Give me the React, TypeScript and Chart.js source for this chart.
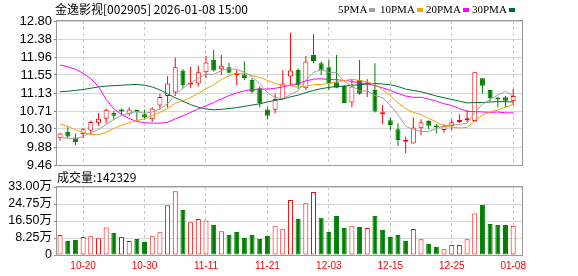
import React, { useEffect, useRef } from 'react';
import { Chart, registerables } from 'chart.js';

Chart.register(...registerables);

const TITLE = '金逸影视[002905] 2026-01-08 15:00';
const VOLUME_TITLE = '成交量';

const DATES = [
  '10-15','10-16','10-17','10-20','10-21','10-22','10-23','10-24','10-27','10-28',
  '10-29','10-30','10-31','11-03','11-04','11-05','11-06','11-07','11-10','11-11',
  '11-12','11-13','11-14','11-17','11-18','11-19','11-20','11-21','11-24','11-25',
  '11-26','11-27','11-28','12-01','12-02','12-03','12-04','12-05','12-08','12-09',
  '12-10','12-11','12-12','12-15','12-16','12-17','12-18','12-19','12-22','12-23',
  '12-24','12-25','12-26','12-29','12-30','12-31','01-05','01-06','01-07','01-08',
];
const DATE_TICKS = ['10-20','10-30','11-11','11-21','12-03','12-15','12-25','01-08'];

const OPEN = [
  10.08,10.23,10.10,10.18,10.26,10.44,10.53,10.67,10.71,10.64,
  10.71,10.64,10.52,10.84,11.06,11.14,11.65,11.33,11.35,11.61,
  11.90,11.68,11.73,11.55,11.56,11.43,11.24,10.75,10.74,10.99,
  11.51,11.67,11.24,12.01,11.82,11.73,11.38,11.29,10.91,11.43,
  11.33,11.20,10.64,10.50,10.29,10.00,9.96,10.31,10.48,10.35,
  10.27,10.36,10.46,10.50,10.48,11.47,11.20,11.00,11.03,10.95,
];
const HIGH = [
  10.20,10.35,10.19,10.31,10.49,10.66,10.77,10.71,10.77,10.80,
  10.73,10.74,10.80,11.11,11.52,11.95,11.68,11.74,11.76,11.99,
  12.13,12.01,11.83,11.66,11.86,11.47,11.28,10.80,11.12,11.66,
  12.53,11.70,11.99,12.50,11.86,11.90,12.01,11.31,11.45,11.90,
  11.45,11.82,10.85,10.57,10.43,10.12,10.56,10.52,10.50,10.41,
  10.41,10.52,10.64,10.74,11.61,11.47,11.20,11.03,11.06,11.22,
];
const LOW = [
  10.02,10.08,9.92,10.08,10.15,10.37,10.43,10.50,10.62,10.60,
  10.50,10.52,10.46,10.75,10.79,11.06,11.24,11.25,11.28,11.47,
  11.63,11.55,11.58,11.31,11.43,11.12,10.80,10.52,10.66,10.97,
  11.31,11.22,11.20,11.82,11.55,11.20,11.24,10.89,10.80,11.09,
  11.04,10.68,10.41,10.27,9.90,9.74,9.96,10.15,10.29,10.19,
  10.21,10.27,10.43,10.46,10.46,11.12,10.93,10.80,10.80,10.85,
];
const CLOSE = [
  10.19,10.12,9.99,10.29,10.46,10.53,10.74,10.60,10.70,10.75,
  10.69,10.56,10.77,11.04,11.35,11.73,11.31,11.37,11.61,11.84,
  11.65,11.76,11.60,11.56,11.48,11.16,10.89,10.60,10.99,11.35,
  11.65,11.31,11.86,11.87,11.65,11.35,11.25,10.90,11.28,11.11,
  11.35,10.70,10.65,10.39,10.04,10.01,10.33,10.45,10.37,10.33,
  10.36,10.45,10.48,10.52,11.61,11.30,11.01,10.98,10.95,11.06,
];
// 成交量，单位：万
const VOLUME = [
  9.7,6.8,7.3,8.7,9.1,8.1,13.4,10.7,8.7,6.8,
  7.8,6.3,9.1,11.0,24.1,30.9,21.8,15.9,17.5,16.8,
  14.6,11.5,9.7,11.2,8.3,9.7,7.8,9.2,13.9,12.5,
  26.7,17.5,25.1,30.6,18.1,11.2,18.9,13.1,13.9,13.6,
  13.1,18.9,12.1,8.7,9.7,6.8,12.6,7.6,5.3,3.9,
  2.8,4.9,4.9,7.6,20.2,24.3,15.0,14.6,14.6,14.2329,
];

const MA5 = [
  10.10,10.08,10.07,10.12,10.21,10.28,10.40,10.52,10.61,10.66,
  10.70,10.66,10.69,10.76,10.88,11.09,11.24,11.36,11.47,11.57,
  11.56,11.65,11.69,11.68,11.61,11.51,11.34,11.14,11.02,11.00,
  11.10,11.18,11.43,11.61,11.67,11.61,11.60,11.40,11.29,11.18,
  11.18,11.07,11.02,10.84,10.63,10.36,10.28,10.24,10.24,10.30,
  10.37,10.39,10.40,10.43,10.68,10.87,10.98,11.08,11.17,11.06,
];
const MA10 = [
  10.41,10.36,10.28,10.21,10.17,10.16,10.22,10.31,10.38,10.44,
  10.49,10.53,10.61,10.68,10.77,10.89,10.95,11.03,11.12,11.23,
  11.32,11.44,11.53,11.58,11.59,11.53,11.49,11.42,11.35,11.30,
  11.30,11.26,11.29,11.32,11.33,11.35,11.39,11.42,11.45,11.42,
  11.39,11.33,11.21,11.06,10.90,10.77,10.68,10.63,10.54,10.46,
  10.36,10.34,10.32,10.33,10.49,10.62,10.69,10.74,10.80,10.87,
];
const MA20 = [
  11.78,11.74,11.68,11.59,11.46,11.28,10.98,10.76,10.63,10.54,
  10.47,10.44,10.43,10.43,10.45,10.53,10.60,10.68,10.76,10.83,
  10.91,10.99,11.07,11.13,11.18,11.21,11.22,11.22,11.24,11.27,
  11.31,11.35,11.41,11.45,11.46,11.44,11.44,11.42,11.40,11.36,
  11.35,11.30,11.25,11.19,11.12,11.06,11.03,11.03,10.99,10.94,
  10.88,10.84,10.77,10.70,10.70,10.69,10.68,10.69,10.67,10.67,
];
const MA30 = [
  11.16,11.17,11.19,11.21,11.24,11.27,11.29,11.30,11.31,11.32,
  11.33,11.31,11.27,11.20,11.11,11.02,10.94,10.86,10.80,10.76,
  10.74,10.75,10.77,10.79,10.82,10.85,10.88,10.92,10.96,10.99,
  11.04,11.08,11.14,11.19,11.23,11.26,11.28,11.29,11.31,11.32,
  11.34,11.35,11.34,11.32,11.28,11.22,11.19,11.16,11.11,11.06,
  11.02,10.98,10.94,10.90,10.91,10.91,10.92,10.93,10.93,10.92,
];

const PRICE_TICKS = ['9.46','9.88','10.30','10.71','11.13','11.55','11.96','12.38','12.80'];
const VOLUME_TICKS = ['0','8.25万','16.50万','24.75万','33.00万'];

const MA_SERIES = [
  { label: '5PMA', data: MA5, color: '#a0a0a0' },
  { label: '10PMA', data: MA10, color: '#f5a200' },
  { label: '20PMA', data: MA20, color: '#ff00ff' },
  { label: '30PMA', data: MA30, color: '#00702e' },
];

const RED = '#ff0000';
const GREEN = '#008000';
const X_MIN = -0.4;
const X_MAX = 60.15;

const framePlugin = {
  id: 'frame',
  afterDatasetsDraw(chart: any) {
    const { ctx, chartArea } = chart;
    ctx.save();
    ctx.strokeStyle = '#9a9a9a';
    ctx.lineWidth = 1;
    ctx.strokeRect(
      Math.round(chartArea.left) - 0.5,
      Math.round(chartArea.top) - 0.5,
      Math.round(chartArea.right - chartArea.left) + 1,
      Math.round(chartArea.bottom - chartArea.top) + 1,
    );
    ctx.restore();
  },
};

const upCandle = (i: number) => CLOSE[i] >= OPEN[i];
const upVolume = (i: number) => (i === 0 ? CLOSE[0] >= OPEN[0] : CLOSE[i] >= CLOSE[i - 1]);

const dateTickValues = () => DATE_TICKS.map((d) => ({ value: DATES.indexOf(d) }));

function xScale(showLabels: boolean) {
  return {
    type: 'linear' as const,
    min: X_MIN,
    max: X_MAX,
    offset: false,
    afterBuildTicks: (ax: any) => {
      ax.ticks = dateTickValues();
    },
    ticks: {
      display: showLabels,
      autoSkip: false,
      maxRotation: 0,
      padding: 5,
      color: RED,
      font: { family: '"Liberation Sans", Arial, sans-serif', size: 10 },
      callback: (v: any) => DATES[Math.round(Number(v))],
    },
    grid: { color: '#c8c8c8', drawTicks: false, lineWidth: 1, offset: false },
    border: { display: false, dash: [3, 3] },
    afterFit: (ax: any) => {
      ax.height = showLabels ? 21 : 0;
    },
  };
}

function PriceChart() {
  const ref = useRef<HTMLCanvasElement>(null);
  useEffect(() => {
    if (!ref.current) return;
    const idx = DATES.map((_, i) => i);
    const pMin = parseFloat(PRICE_TICKS[0]);
    const pMax = parseFloat(PRICE_TICKS[PRICE_TICKS.length - 1]);
    const step = (pMax - pMin) / (PRICE_TICKS.length - 1);
    const chart = new Chart(ref.current, {
      type: 'bar',
      data: {
        datasets: [
          ...MA_SERIES.map((s) => ({
            type: 'line' as const,
            label: s.label,
            data: s.data.map((v, i) => ({ x: i, y: v })),
            borderColor: s.color,
            borderWidth: 1,
            pointRadius: 0,
            tension: 0,
            order: 0,
          })),
          {
            type: 'bar' as const,
            label: 'body',
            data: idx.map((i) => ({ x: i, y: [OPEN[i], CLOSE[i]] })) as any,
            backgroundColor: idx.map((i) => (upCandle(i) ? '#ffffff' : GREEN)),
            borderColor: idx.map((i) => (upCandle(i) ? RED : GREEN)),
            borderWidth: 1,
            borderSkipped: false,
            barThickness: 5,
            minBarLength: 2,
            grouped: false,
            inflateAmount: 0,
            order: 1,
          },
          {
            type: 'bar' as const,
            label: 'wick',
            data: idx.map((i) => ({ x: i, y: [LOW[i], HIGH[i]] })) as any,
            backgroundColor: idx.map((i) => (upCandle(i) ? RED : GREEN)),
            borderWidth: 0,
            barThickness: 1,
            grouped: false,
            inflateAmount: 0,
            order: 2,
          },
        ],
      },
      options: {
        animation: false,
        responsive: false,
        events: [],
        layout: { padding: { left: 0, right: 56, top: 21, bottom: 13 } },
        plugins: { legend: { display: false }, tooltip: { enabled: false } },
        scales: {
          x: xScale(false) as any,
          y: {
            type: 'linear',
            min: pMin,
            max: pMax,
            afterBuildTicks: (ax: any) => {
              ax.ticks = PRICE_TICKS.map((_, k) => ({ value: pMin + k * step }));
            },
            ticks: {
              autoSkip: false,
              padding: 2,
              color: '#000000',
              font: { family: '"Liberation Sans", Arial, sans-serif', size: 13 },
              callback: (_v: any, k: number) => PRICE_TICKS[k],
            },
            grid: { color: '#d6d6d6', tickLength: 3, tickColor: '#8a8a8a' },
            border: { display: false },
            afterFit: (ax: any) => {
              ax.width = 57;
            },
          },
        },
      },
      plugins: [framePlugin],
    });
    return () => chart.destroy();
  }, []);
  return (
    <canvas
      ref={ref}
      width={578}
      height={178}
      style={{ position: 'absolute', left: 0, top: 0, width: 578, height: 178 }}
    />
  );
}

function VolumeChart() {
  const ref = useRef<HTMLCanvasElement>(null);
  useEffect(() => {
    if (!ref.current) return;
    const idx = DATES.map((_, i) => i);
    const vMax = parseFloat(VOLUME_TICKS[VOLUME_TICKS.length - 1]);
    const vStep = vMax / (VOLUME_TICKS.length - 1);
    const chart = new Chart(ref.current, {
      type: 'bar',
      data: {
        datasets: [
          {
            label: 'volume',
            data: idx.map((i) => ({ x: i, y: VOLUME[i] })) as any,
            backgroundColor: idx.map((i) => (upVolume(i) ? '#ffffff' : GREEN)),
            borderColor: idx.map((i) => (upVolume(i) ? RED : GREEN)),
            borderWidth: 1,
            borderSkipped: false,
            barThickness: 5,
            grouped: false,
            inflateAmount: 0,
          },
        ],
      },
      options: {
        animation: false,
        responsive: false,
        events: [],
        layout: { padding: { left: 0, right: 56, top: 22, bottom: 0 } },
        plugins: { legend: { display: false }, tooltip: { enabled: false } },
        scales: {
          x: xScale(true) as any,
          y: {
            type: 'linear',
            min: 0,
            max: vMax,
            afterBuildTicks: (ax: any) => {
              ax.ticks = VOLUME_TICKS.map((_, k) => ({ value: k * vStep }));
            },
            ticks: {
              autoSkip: false,
              padding: 2,
              color: '#000000',
              font: { family: '"Liberation Sans", "Noto Sans CJK SC", Arial, sans-serif', size: 12.5 },
              callback: (_v: any, k: number) => VOLUME_TICKS[k],
            },
            grid: { color: '#d6d6d6', tickLength: 3, tickColor: '#8a8a8a' },
            border: { display: false },
            afterFit: (ax: any) => {
              ax.width = 57;
            },
          },
        },
      },
      plugins: [framePlugin],
    });
    return () => chart.destroy();
  }, []);
  return (
    <canvas
      ref={ref}
      width={578}
      height={111}
      style={{ position: 'absolute', left: 0, top: 165, width: 578, height: 111 }}
    />
  );
}

const LEGEND_LEFT = [338, 380, 426, 472];

export default function App() {
  const lastVolume = Math.round(VOLUME[VOLUME.length - 1] * 10000);
  return (
    <div style={{ position: 'absolute', left: 0, top: 0, width: 578, height: 276, background: '#ffffff', overflow: 'hidden' }}>
      <PriceChart />
      <VolumeChart />
      <div
        style={{
          position: 'absolute', left: 55, top: 2, fontSize: 12, lineHeight: '14px',
          fontFamily: '"Noto Sans CJK SC", sans-serif', color: '#000', whiteSpace: 'nowrap',
        }}
      >
        {TITLE}
      </div>
      {MA_SERIES.map((s, k) => (
        <div
          key={s.label}
          style={{
            position: 'absolute', left: LEGEND_LEFT[k], top: 2, fontSize: 11, lineHeight: '14px',
            fontFamily: '"Liberation Serif", serif', color: '#000', whiteSpace: 'nowrap',
            display: 'flex', alignItems: 'center',
          }}
        >
          <span>{s.label}</span>
          <span style={{ display: 'inline-block', width: 6, height: 4, background: s.color, marginLeft: 2, marginTop: 1 }} />
        </div>
      ))}
      <div
        style={{
          position: 'absolute', left: 57, top: 170, fontSize: 12, lineHeight: '14px',
          fontFamily: '"Noto Sans CJK SC", sans-serif', color: '#000', whiteSpace: 'nowrap',
        }}
      >
        {VOLUME_TITLE}:{lastVolume}
      </div>
    </div>
  );
}
